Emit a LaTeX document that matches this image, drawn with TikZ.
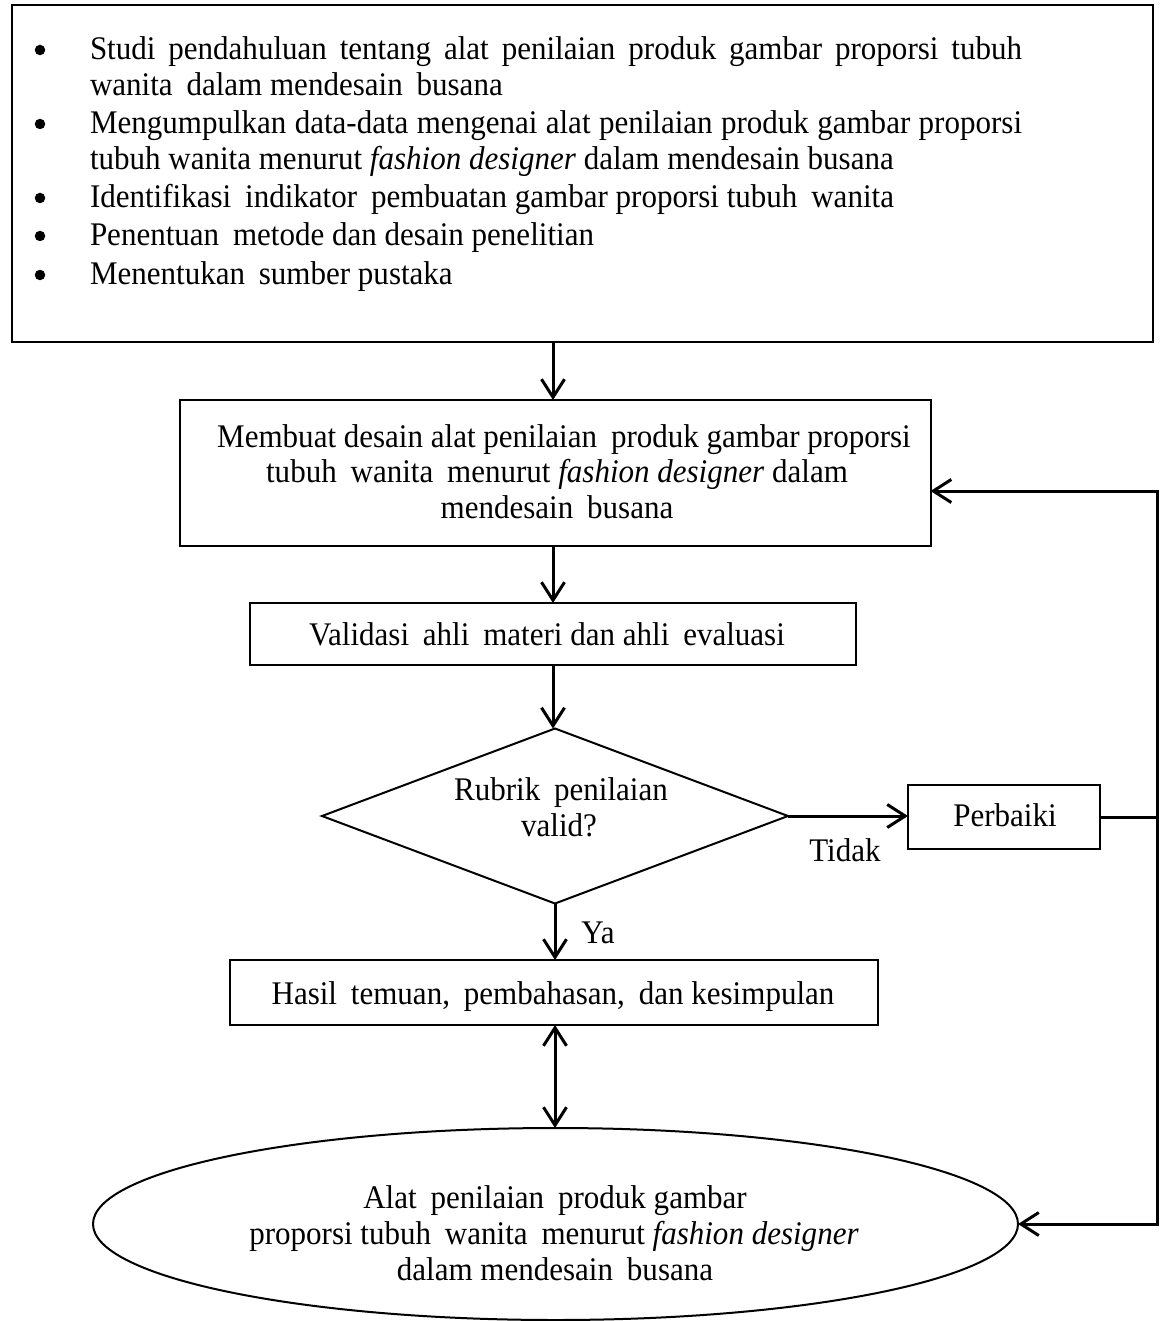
\documentclass[tikz,border=0pt]{standalone}
\usepackage{fontspec}
\setmainfont{Liberation Serif}[FakeStretch=0.94]
\usetikzlibrary{arrows.meta,shapes.geometric}
\newcommand{\ds}{\hspace{0.42em}}
\begin{document}
\begin{tikzpicture}[x=1pt,y=-1pt,
  font=\fontsize{33}{36}\selectfont,
  every node/.style={inner sep=0pt, outer sep=0pt},
  lbl/.style={anchor=base},
  lblw/.style={anchor=base west},
  boxframe/.style={draw, line width=2pt},
  bul/.style={fill, circle, minimum size=10.5pt},
  arr/.style={line width=3pt, -{Straight Barb[length=18pt,width=23pt]}},
  darr/.style={line width=3pt, {Straight Barb[length=18pt,width=23pt]}-{Straight Barb[length=18pt,width=23pt]}},
  plain/.style={line width=3pt}]
\useasboundingbox (0,0) rectangle (1162,1321);

% top box
\node[boxframe, line width=2.5pt, minimum width=1141, minimum height=337] (top) at (582.5,173.5) {};
\foreach \yy [count=\i] in {60,134,208,246,285} {\node[bul] (bul\i) at (40,\yy-10) {};}
\node[lblw] (t1) at (90,60) {\makebox[932pt][s]{Studi pendahuluan tentang alat penilaian produk gambar proporsi tubuh}};
\node[lblw] (t2) at (90,96) {wanita\ds dalam mendesain\ds busana};
\node[lblw] (t3) at (90,134) {\makebox[932pt][s]{Mengumpulkan data-data mengenai alat penilaian produk gambar proporsi}};
\node[lblw] (t4) at (90,170) {tubuh wanita menurut \textit{fashion designer} dalam mendesain busana};
\node[lblw] (t5) at (90,208) {Identifikasi\ds indikator\ds pembuatan gambar proporsi tubuh\ds wanita};
\node[lblw] (t6) at (90,246) {Penentuan\ds metode dan desain penelitian};
\node[lblw] (t7) at (90,285) {Menentukan\ds sumber pustaka};

% box 2
\node[boxframe, minimum width=751, minimum height=146] (b2) at (555,473) {};
\node[lbl] (b2a) at (564,447) {Membuat desain alat penilaian\ds produk gambar proporsi};
\node[lbl] (b2b) at (557,482) {tubuh\ds wanita\ds menurut \textit{fashion designer} dalam};
\node[lbl] (b2c) at (557,518) {mendesain\ds busana};

% box 3
\node[boxframe, minimum width=606, minimum height=62] (b3) at (553,634) {};
\node[lbl] (b3t) at (547,645) {Validasi\ds ahli\ds materi dan ahli\ds evaluasi};

% diamond
\node[diamond, boxframe, minimum width=466, minimum height=175] (dia) at (555,816) {};
\node[lbl] (d1) at (561,800) {Rubrik\ds penilaian};
\node[lbl] (d2) at (559,836) {valid?};

% perbaiki
\node[boxframe, minimum width=192, minimum height=64] (perb) at (1004,817) {};
\node[lbl] (pt) at (1005,826) {Perbaiki};
\node[lbl] (tidak) at (845,861) {Tidak};

% box 4
\node[boxframe, minimum width=648, minimum height=65] (b4) at (554,992.5) {};
\node[lbl] (b4t) at (553,1004) {Hasil\ds temuan,\ds pembahasan,\ds dan kesimpulan};
\node[lbl] (ya) at (598,943) {Ya};

% ellipse
\node[ellipse, boxframe, minimum width=925, minimum height=192] (ell) at (555.5,1224) {};
\node[lbl] (e1) at (555,1208) {Alat\ds penilaian\ds produk gambar};
\node[lbl] (e2) at (554,1244) {proporsi tubuh\ds wanita\ds menurut \textit{fashion designer}};
\node[lbl] (e3) at (555,1280) {dalam mendesain\ds busana};

% connectors
\coordinate (fb) at (1157,491);
\draw[arr] (b3.north |- top.south) -- (b3.north |- b2.north);
\draw[arr] (b3.north |- b2.south) -- (b3.north);
\draw[arr] (b3.south) -- (b3.south |- dia.north);
\draw[arr] (dia.south) -- (dia.south |- b4.north);
\draw[darr] (b4.south -| dia.south) -- (dia.south |- ell.north);
\draw[arr] (dia.east) -- (dia.east -| perb.west);
\draw[plain] (perb.east) -- (perb.east -| fb);
\draw[arr] (fb |- ell.east) -- (fb) -- (fb -| b2.east);
\draw[arr] (fb) -- (fb |- ell.east) -- (ell.east);
\end{tikzpicture}
\end{document}
